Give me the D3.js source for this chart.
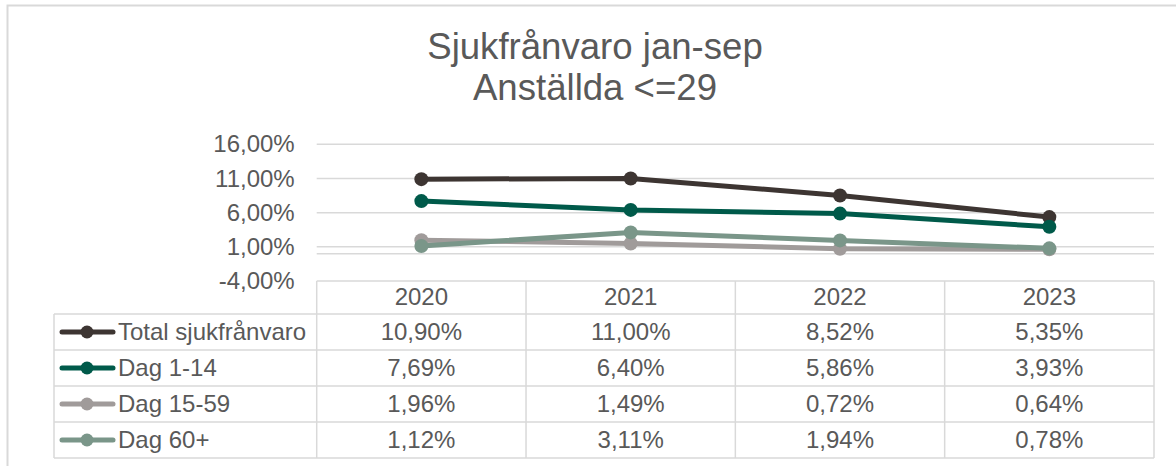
<!DOCTYPE html>
<html>
<head>
<meta charset="utf-8">
<script src="https://cdn.jsdelivr.net/npm/d3@7"></script>
<style>
  body { margin: 0; background: #fff; }
  text { font-family: "Liberation Sans", Arial, sans-serif; fill: #595959; }
</style>
</head>
<body>
<svg id="chart" width="1176" height="466"></svg>
<script>
// data
const years = ["2020", "2021", "2022", "2023"];
const seriesNames = ["Total sjukfrånvaro", "Dag 1-14", "Dag 15-59", "Dag 60+"];
const totalValues = [10.90, 11.00, 8.52, 5.35];
const dag1to14Values = [7.69, 6.40, 5.86, 3.93];
const dag15to59Values = [1.96, 1.49, 0.72, 0.64];
const dag60Values = [1.12, 3.11, 1.94, 0.78];
const yTicks = [-4, 1, 6, 11, 16];
const titleLines = ["Sjukfrånvaro jan-sep", "Anställda <=29"];

const colors = ["#3d3532", "#005a4a", "#a09b9a", "#7a9689"];
const series = [totalValues, dag1to14Values, dag15to59Values, dag60Values]
  .map((vals, i) => ({ name: seriesNames[i], color: colors[i], values: vals }));

const svg = d3.select("#chart");
const gridColor = "#d9d9d9";
const labelSize = "24px";
// excel style: comma decimals, plain hyphen for minus
const fmt = v => d3.format(".2f")(v).replace(".", ",").replace("\u2212", "-") + "%";

// outer chart border (runs off the right and bottom edge)
svg.append("path")
  .attr("d", "M7.5,470 L7.5,5.5 L1180,5.5")
  .attr("fill", "none")
  .attr("stroke", gridColor)
  .attr("stroke-width", 2);

// title
svg.append("text")
  .attr("x", 595)
  .attr("text-anchor", "middle")
  .style("font-size", "36.6px")
  .selectAll("tspan")
  .data(titleLines)
  .join("tspan")
    .attr("x", 595)
    .attr("y", (d, i) => 59 + i * 41)
    .text(d => d);

const left = 316.7, right = 1154;
const plotTop = 144.3, plotBottom = 281;

const x = d3.scaleBand().domain(years).range([left, right]);
const y = d3.scaleLinear().domain([-4, 16]).range([plotBottom, plotTop]);

// gridlines
svg.append("g")
  .selectAll("line")
  .data(yTicks.filter(t => t > -4).concat([0]))
  .join("line")
    .attr("x1", left)
    .attr("x2", right)
    .attr("y1", d => y(d))
    .attr("y2", d => y(d))
    .attr("stroke", gridColor)
    .attr("stroke-width", 1.5);

// y axis labels
const yAxis = svg.append("g")
  .attr("transform", `translate(${left - 22},0)`)
  .call(d3.axisLeft(y).tickValues(yTicks).tickSize(0).tickPadding(0).tickFormat(fmt));
yAxis.select(".domain").remove();
yAxis.selectAll("text")
  .style("font-size", labelSize)
  .style("font-family", "'Liberation Sans', Arial, sans-serif")
  .attr("fill", "#595959");

// lines and markers
const line = d3.line()
  .x((d, i) => x(years[i]) + x.bandwidth() / 2)
  .y(d => y(d));

series.forEach(s => {
  const g = svg.append("g");
  g.append("path")
    .attr("d", line(s.values))
    .attr("fill", "none")
    .attr("stroke", s.color)
    .attr("stroke-width", 5)
    .attr("stroke-linejoin", "round")
    .attr("stroke-linecap", "round");
  g.selectAll("circle")
    .data(s.values)
    .join("circle")
      .attr("cx", (d, i) => x(years[i]) + x.bandwidth() / 2)
      .attr("cy", d => y(d))
      .attr("r", 7)
      .attr("fill", s.color);
});

// data table
const headerBottom = 314;
const rowH = 36;
const legendLeft = 54;
const tableBottom = headerBottom + rowH * series.length;
const table = svg.append("g")
  .attr("stroke", gridColor)
  .attr("stroke-width", 1.5)
  .attr("fill", "none");

// horizontal lines
table.append("line").attr("x1", left).attr("x2", right).attr("y1", plotBottom).attr("y2", plotBottom);
d3.range(series.length + 1).forEach(i => {
  const yy = headerBottom + i * rowH;
  table.append("line").attr("x1", legendLeft).attr("x2", right).attr("y1", yy).attr("y2", yy);
});
// vertical lines
table.append("line").attr("x1", legendLeft).attr("x2", legendLeft).attr("y1", headerBottom).attr("y2", tableBottom);
years.forEach(yr => {
  table.append("line").attr("x1", x(yr)).attr("x2", x(yr)).attr("y1", plotBottom).attr("y2", tableBottom);
});
table.append("line").attr("x1", right).attr("x2", right).attr("y1", plotBottom).attr("y2", tableBottom);

// header labels
svg.append("g")
  .selectAll("text")
  .data(years)
  .join("text")
    .attr("x", d => x(d) + x.bandwidth() / 2)
    .attr("y", (plotBottom + headerBottom) / 2)
    .attr("dy", "0.3em")
    .attr("text-anchor", "middle")
    .style("font-size", labelSize)
    .text(d => d);

// rows
series.forEach((s, r) => {
  const cy = headerBottom + r * rowH + rowH / 2;
  const g = svg.append("g");
  g.append("line")
    .attr("x1", 62).attr("x2", 113)
    .attr("y1", cy).attr("y2", cy)
    .attr("stroke", s.color)
    .attr("stroke-width", 5)
    .attr("stroke-linecap", "round");
  g.append("circle")
    .attr("cx", 87).attr("cy", cy).attr("r", 6.5)
    .attr("fill", s.color);
  g.append("text")
    .attr("x", 118).attr("y", cy).attr("dy", "0.35em")
    .style("font-size", labelSize)
    .text(s.name);
  g.selectAll("text.val")
    .data(s.values)
    .join("text")
      .attr("class", "val")
      .attr("x", (d, i) => x(years[i]) + x.bandwidth() / 2)
      .attr("y", cy)
      .attr("dy", "0.35em")
      .attr("text-anchor", "middle")
      .style("font-size", labelSize)
      .text(d => fmt(d));
});
</script>
</body>
</html>
